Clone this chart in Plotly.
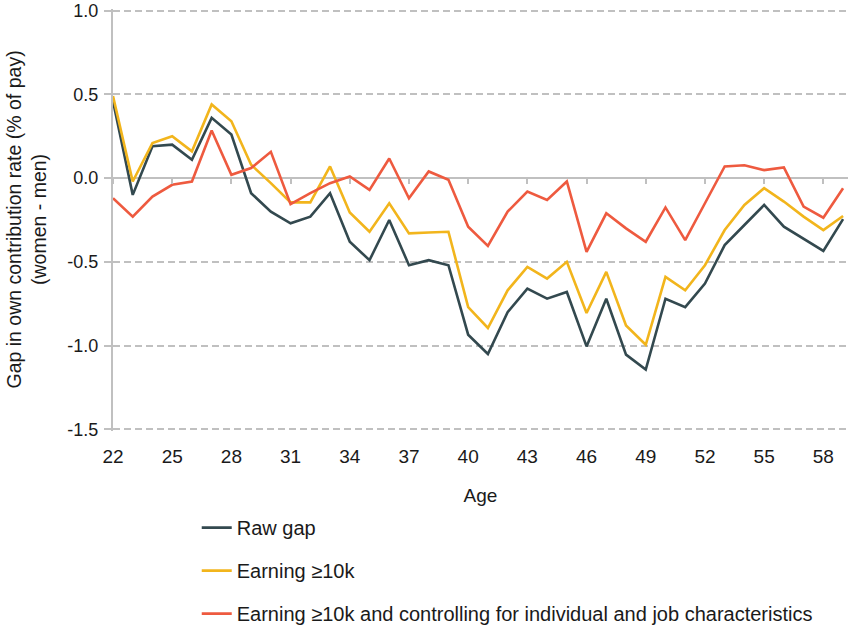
import plotly.graph_objects as go

ages = list(range(22, 60))
raw_gap = [0.46, -0.10, 0.19, 0.20, 0.11, 0.36, 0.26, -0.09, -0.20, -0.27, -0.23, -0.09,
           -0.38, -0.49, -0.25, -0.52, -0.49, -0.52, -0.935, -1.05, -0.80, -0.66, -0.72, -0.68,
           -1.005, -0.72, -1.054, -1.143, -0.72, -0.77, -0.63, -0.40, -0.28, -0.16, -0.29,
           -0.365, -0.435, -0.245]
earning_10k = [0.49, -0.02, 0.21, 0.25, 0.16, 0.44, 0.34, 0.08, -0.03, -0.145, -0.145, 0.07,
               -0.205, -0.32, -0.15, -0.33, -0.325, -0.32, -0.77, -0.895, -0.67, -0.53, -0.60, -0.50,
               -0.805, -0.56, -0.88, -0.995, -0.59, -0.67, -0.52, -0.31, -0.16, -0.06, -0.14,
               -0.23, -0.31, -0.226]
controlled = [-0.12, -0.23, -0.11, -0.04, -0.02, 0.285, 0.02, 0.06, 0.157, -0.155, -0.09, -0.03,
              0.01, -0.07, 0.117, -0.12, 0.04, -0.01, -0.29, -0.405, -0.20, -0.08, -0.13, -0.02,
              -0.44, -0.21, -0.30, -0.38, -0.175, -0.37, -0.15, 0.07, 0.077, 0.048, 0.064,
              -0.17, -0.236, -0.06]

names = ["Raw gap", "Earning \u226510k",
         "Earning \u226510k and controlling for individual and job characteristics"]
colors = ["#33494f", "#f2b51c", "#ee5a3f"]
series = [raw_gap, earning_10k, controlled]

x_ticks = list(range(22, 59, 3))
y_ticks = [-1.5, -1.0, -0.5, 0.0, 0.5, 1.0]
y_labels = ["-1.5", "-1.0", "-0.5", "0.0", "0.5", "1.0"]
y_title = "Gap in own contribution rate (% of pay)<br>(women - men)"

FONT = "Liberation Sans, Arial, sans-serif"
TXT = "#1a1a1a"
GRID = "#c0c0c0"

fig = go.Figure()
for i, (nm, col, ys) in enumerate(zip(names, colors, series)):
    fig.add_trace(go.Scatter(x=ages, y=ys, mode="lines", name=nm,
                             legendgroup=f"g{i}",
                             line=dict(color=col, width=2.6)))

# invisible trace carrying the tick marks on the zero line
fig.add_trace(go.Scatter(x=[ages[0], ages[-1]], y=[None, None], xaxis="x2",
                         showlegend=False, hoverinfo="skip"))

fig.add_annotation(text=y_title, xref="paper", yref="paper", x=-0.119, y=0.50,
                   xanchor="center", yanchor="middle", textangle=-90, showarrow=False,
                   font=dict(size=19.5, color=TXT, family=FONT))

fig.update_layout(
    width=848, height=625,
    margin=dict(l=113, r=0, t=9, b=194, autoexpand=False),
    paper_bgcolor="white", plot_bgcolor="white",
    font=dict(family=FONT, color=TXT, size=18),
    showlegend=True,
    legend=dict(orientation="v", xref="container", yref="container",
                x=0.232, y=0.187, xanchor="left", yanchor="top",
                font=dict(size=20, color=TXT), tracegroupgap=14,
                bgcolor="rgba(0,0,0,0)"),
    xaxis=dict(range=[22, 59.25], tickvals=x_ticks, ticktext=[str(v) for v in x_ticks],
               showgrid=False, zeroline=False, showline=False, ticks="",
               tickfont=dict(size=19, color=TXT), ticklabelstandoff=12,
               title=dict(text="Age", font=dict(size=19, color=TXT), standoff=22)),
    xaxis2=dict(range=[22, 59.25], overlaying="x", anchor="free",
                position=1.51 / 2.52, side="bottom", tickvals=x_ticks,
                showticklabels=False, ticks="outside", ticklen=5, tickwidth=1.5,
                tickcolor=GRID, showline=False, showgrid=False, zeroline=False),
    yaxis=dict(range=[-1.51, 1.01], tickvals=y_ticks, ticktext=y_labels,
               showgrid=True, gridcolor=GRID, griddash="7px,4px", gridwidth=1.5,
               zeroline=True, zerolinecolor=GRID, zerolinewidth=2,
               showline=True, linecolor=GRID, linewidth=2,
               ticks="outside", ticklen=7, tickcolor=GRID, tickwidth=1.5,
               tickfont=dict(size=18, color=TXT), ticklabelstandoff=2),
)

fig.write_html("out.html")
